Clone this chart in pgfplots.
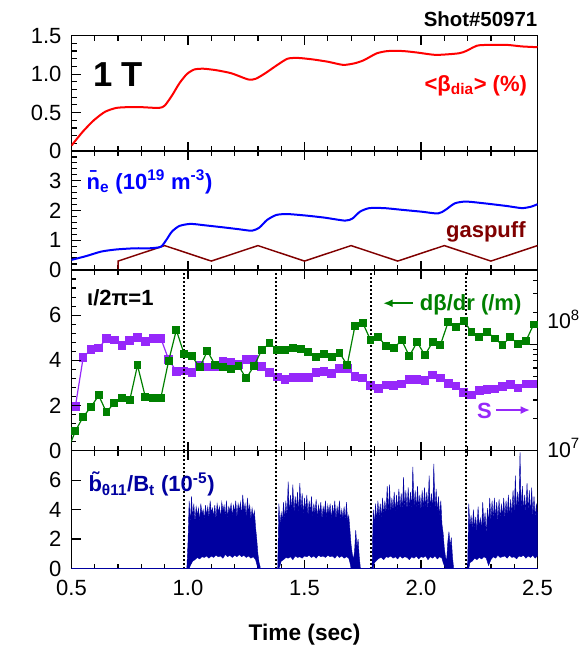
\documentclass[border=0pt]{standalone}
\usepackage{fontspec}
\setmainfont{Liberation Sans}
\usepackage{pgfplots}
\usepackage{pgfplotstable}
\pgfplotsset{compat=1.18}
\usetikzlibrary{arrows.meta}

\definecolor{betared}{RGB}{255,0,0}
\definecolor{neblue}{RGB}{0,0,255}
\definecolor{gasred}{RGB}{128,0,0}
\definecolor{dbgreen}{RGB}{0,128,0}
\definecolor{spurple}{RGB}{150,40,250}
\definecolor{bblue}{RGB}{0,0,160}

\newcommand\lab{\fontsize{16.5}{19}\selectfont\bfseries}

\pgfplotstableread{
t v
0.4833 0.00
0.5167 0.87
0.5500 1.50
0.5833 1.93
0.6167 2.45
0.6500 1.70
0.6833 2.12
0.7167 2.35
0.7500 2.24
0.7833 3.78
0.8167 2.39
0.8500 2.33
0.8833 2.33
0.9167 3.97
0.9500 5.34
0.9833 4.28
1.0167 4.19
1.0500 3.69
1.0833 4.41
1.1167 3.79
1.1500 3.69
1.1833 3.62
1.2167 3.76
1.2500 3.20
1.2833 3.76
1.3167 4.46
1.3500 4.75
1.3833 4.46
1.4167 4.46
1.4500 4.53
1.4833 4.49
1.5167 4.38
1.5500 4.13
1.5833 4.28
1.6167 4.16
1.6500 4.34
1.6833 3.79
1.7167 5.53
1.7500 5.66
1.7833 4.90
1.8167 5.02
1.8500 4.65
1.8833 4.53
1.9167 4.90
1.9500 4.19
1.9833 4.81
2.0167 4.23
2.0500 4.81
2.0833 4.68
2.1167 5.70
2.1500 5.49
2.1833 5.76
2.2167 5.25
2.2500 5.02
2.2833 5.27
2.3167 4.97
2.3500 4.68
2.3833 5.04
2.4167 4.71
2.4500 4.85
2.4833 5.59
}\dbdr

\pgfplotstableread{
t s
0.5167 2.61e7
0.5500 7.48e7
0.5833 8.97e7
0.6167 9.23e7
0.6500 1.13e8
0.6833 1.10e8
0.7167 9.79e7
0.7500 1.09e8
0.7833 1.16e8
0.8167 1.07e8
0.8500 1.14e8
0.8833 1.14e8
0.9167 7.21e7
0.9500 5.58e7
0.9833 5.62e7
1.0167 5.47e7
1.0500 6.32e7
1.0833 6.10e7
1.1167 6.10e7
1.1500 6.85e7
1.1833 6.71e7
1.2167 6.47e7
1.2500 7.21e7
1.2833 7.21e7
1.3167 6.15e7
1.3500 5.40e7
1.3833 4.94e7
1.4167 4.67e7
1.4500 4.91e7
1.4833 4.91e7
1.5167 4.91e7
1.5500 5.47e7
1.5833 5.58e7
1.6167 5.32e7
1.6500 5.93e7
1.6833 5.89e7
1.7167 5.01e7
1.7500 4.84e7
1.7833 4.09e7
1.8167 3.84e7
1.8500 4.16e7
1.8833 4.09e7
1.9167 4.25e7
1.9500 4.67e7
1.9833 4.67e7
2.0167 4.56e7
2.0500 5.13e7
2.0833 4.84e7
2.1167 4.27e7
2.1500 4.06e7
2.1833 3.52e7
2.2167 3.34e7
2.2500 3.67e7
2.2833 3.75e7
2.3167 3.81e7
2.3500 4.04e7
2.3833 4.19e7
2.4167 3.89e7
2.4500 4.25e7
2.4833 4.25e7
}\sdata

\pgfplotsset{
  panel/.style={
    anchor=south west, scale only axis, width=349.5pt,
    xmin=0.5, xmax=2.5,
    axis line style={line width=1.1pt},
    tick style={line width=0.9pt, black},
    major tick length=6.75pt, minor tick length=3.75pt,
    tick align=inside,
    xtick={0.5,1,1.5,2,2.5}, minor x tick num=4,
    xtick pos=both, ytick pos=left,
    xticklabels={},
    tick label style={font=\fontsize{16.5}{19}\selectfont},
    yticklabel style={xshift=-4pt},
    xticklabel style={yshift=-5pt},
    /pgf/number format/assume math mode=true,
  }
}

\begin{document}
\begin{tikzpicture}
\path[use as bounding box] (0,0) rectangle (437.25pt,488.25pt);

% ---------- Panel 1: beta ----------
\begin{axis}[panel, at={(53.625pt,375pt)}, height=86.5pt,
  ymin=0, ymax=1.5, ytick={0,0.5,1,1.5}, yticklabels={0,0.5,1.0,1.5},
  minor y tick num=4]
\addplot[betared, line width=1.5pt, smooth, tension=0.4] coordinates {
(0.5,0.07)(0.548,0.25)(0.596,0.40)(0.644,0.51)(0.692,0.56)(0.74,0.57)(0.80,0.57)
(0.875,0.56)(0.90,0.59)(0.931,0.72)(0.963,0.88)(0.995,1.00)(1.027,1.06)(1.067,1.07)
(1.123,1.05)(1.187,1.01)(1.259,0.93)(1.291,0.94)(1.331,1.01)(1.379,1.11)(1.427,1.20)
(1.474,1.21)(1.538,1.19)(1.602,1.16)(1.666,1.12)(1.714,1.14)(1.754,1.18)(1.81,1.27)
(1.858,1.30)(1.922,1.30)(1.985,1.28)(2.065,1.25)(2.161,1.27)(2.193,1.30)(2.241,1.37)
(2.289,1.38)(2.369,1.38)(2.433,1.36)(2.5,1.35)};
\node[font=\fontsize{26}{30}\selectfont\bfseries] at (rel axis cs:0.10,0.66) {1 T};
\node[anchor=base east, text=betared, font=\lab, inner sep=0pt] at (rel axis cs:0.978,0.52) {<β\textsubscript{dia}> (\%)};
\end{axis}

% ---------- Panel 2: density & gaspuff ----------
\begin{axis}[panel, at={(53.625pt,285.75pt)}, height=89.25pt,
  ymin=0, ymax=4, ytick={0,1,2,3,4}, yticklabels={0,1,2,3,{}},
  minor y tick num=4]
\addplot[gasred, line width=1.1pt] coordinates {
(0.5,0)(0.7,0)(0.7,0.3)(0.9,0.82)(1.1,0.3)(1.3,0.82)(1.5,0.3)(1.7,0.82)(1.9,0.3)(2.1,0.82)(2.3,0.3)(2.5,0.82)};
\addplot[neblue, line width=1.5pt, smooth, tension=0.4] coordinates {
(0.5,0.34)(0.564,0.47)(0.628,0.62)(0.692,0.69)(0.772,0.73)(0.835,0.73)(0.883,0.78)
(0.907,1.01)(0.931,1.29)(0.963,1.48)(1.011,1.55)(1.075,1.50)(1.155,1.43)(1.219,1.37)
(1.275,1.32)(1.307,1.43)(1.339,1.68)(1.379,1.85)(1.427,1.88)(1.506,1.83)(1.586,1.76)
(1.674,1.66)(1.706,1.73)(1.738,1.96)(1.778,2.08)(1.842,2.08)(1.922,2.02)(2.002,1.96)
(2.073,1.90)(2.105,2.02)(2.145,2.24)(2.193,2.30)(2.273,2.24)(2.369,2.15)(2.433,2.08)
(2.473,2.13)(2.5,2.21)};
\node[anchor=base west, text=neblue, font=\lab, inner sep=0pt] at (rel axis cs:0.032,0.678) {\={n}\textsubscript{e} (10\textsuperscript{19} m\textsuperscript{-3})};
\node[anchor=base east, text=gasred, font=\lab, inner sep=0pt] at (rel axis cs:0.975,0.275) {gaspuff};
\end{axis}

% ---------- Panel 3 right axis: S ----------
\begin{axis}[anchor=south west, at={(53.625pt,150.225pt)}, scale only axis,
  width=349.5pt, height=135.525pt, xmin=0.5, xmax=2.5,
  ymode=log, ymin=1e7, ymax=5e8,
  axis x line=none, axis y line*=right,
  axis line style={-, line width=1.1pt},
  tick style={line width=0.9pt, black},
  major tick length=6.75pt, minor tick length=3.75pt, tick align=inside,
  ytick={1e7,1e8}, yticklabels={},
  minor ytick={2e7,3e7,4e7,5e7,6e7,7e7,8e7,9e7,2e8,3e8,4e8}]
\addplot[spurple, line width=0.9pt, mark=square*, mark size=2.8pt, mark options={solid, fill=spurple, draw=spurple}] table[x=t, y=s] {\sdata};
\end{axis}

% ---------- Panel 3 left axis: dbeta/dr ----------
\begin{axis}[panel, at={(53.625pt,150.225pt)}, height=135.525pt,
  ymin=0, ymax=8, ytick={0,2,4,6,8}, yticklabels={0,2,4,6,{}},
  minor y tick num=4]
\addplot[black, line width=1.1pt, dash pattern=on 1.2pt off 1.8pt] coordinates {(0.982,0)(0.982,8)};
\addplot[black, line width=1.1pt, dash pattern=on 1.2pt off 1.8pt] coordinates {(1.377,0)(1.377,8)};
\addplot[black, line width=1.1pt, dash pattern=on 1.2pt off 1.8pt] coordinates {(1.785,0)(1.785,8)};
\addplot[black, line width=1.1pt, dash pattern=on 1.2pt off 1.8pt] coordinates {(2.193,0)(2.193,8)};
\addplot[dbgreen, line width=0.9pt, mark=square*, mark size=2.5pt, mark options={solid, fill=dbgreen, draw=dbgreen}] table[x=t, y=v] {\dbdr};
\node[anchor=base west, font=\lab, inner sep=0pt] at (rel axis cs:0.033,0.806) {ι/2π=1};
\node[anchor=base east, text=dbgreen, font=\lab, inner sep=0pt] at (rel axis cs:0.966,0.775) {dβ/dr (/m)};
\draw[dbgreen, line width=1.6pt, -{Latex[length=7pt,width=6pt]}] (rel axis cs:0.733,0.816) -- (rel axis cs:0.669,0.816);
\node[anchor=base west, text=spurple, font=\lab, inner sep=0pt] at (rel axis cs:0.87,0.179) {S};
\draw[spurple, line width=1.6pt, -{Latex[length=7pt,width=6pt]}] (rel axis cs:0.912,0.225) -- (rel axis cs:0.984,0.225);
\end{axis}

% ---------- Panel 4: b-tilde ----------
\begin{axis}[panel, at={(53.625pt,61.875pt)}, height=88.35pt,
  ymin=0, ymax=8, ytick={0,2,4,6,8}, yticklabels={0,2,4,6,{}},
  xticklabels={0.5,1.0,1.5,2.0,2.5}]
\addplot[black, line width=1.1pt, dash pattern=on 1.2pt off 1.8pt] coordinates {(0.982,0)(0.982,8)};
\addplot[black, line width=1.1pt, dash pattern=on 1.2pt off 1.8pt] coordinates {(1.377,0)(1.377,8)};
\addplot[black, line width=1.1pt, dash pattern=on 1.2pt off 1.8pt] coordinates {(1.785,0)(1.785,8)};
\addplot[black, line width=1.1pt, dash pattern=on 1.2pt off 1.8pt] coordinates {(2.193,0)(2.193,8)};
\addplot[bblue, line width=1.5pt] coordinates {(0.5,0)(2.5,0)};
% burst 1
\addplot[fill=bblue, draw=bblue, line width=0.3pt] coordinates {
(0.995,0)(1.000,1.8)(1.005,4.6)(1.010,3.0)(1.015,4.9)(1.020,3.4)(1.025,4.4)(1.030,3.1)(1.035,4.2)
(1.040,3.6)(1.045,4.1)(1.050,3.2)(1.055,4.4)(1.060,3.7)(1.065,4.0)(1.070,3.3)(1.075,4.3)
(1.080,3.6)(1.085,4.2)(1.090,3.4)(1.095,4.6)(1.100,3.8)(1.105,4.1)(1.110,3.5)(1.115,4.3)
(1.120,3.3)(1.125,4.4)(1.130,3.8)(1.135,4.2)(1.140,3.4)(1.145,4.5)(1.150,3.9)(1.155,4.3)
(1.160,3.5)(1.165,4.6)(1.170,3.4)(1.175,4.2)(1.180,3.9)(1.185,4.4)(1.190,3.5)(1.195,4.3)
(1.200,3.8)(1.205,4.6)(1.210,3.4)(1.215,4.4)(1.220,3.9)(1.225,4.5)(1.230,3.5)(1.235,5.0)
(1.240,3.9)(1.245,4.4)(1.250,3.4)(1.255,4.8)(1.260,3.8)(1.265,4.3)(1.270,3.3)(1.275,4.1)
(1.280,3.5)(1.285,3.9)(1.290,2.8)(1.295,2.0)(1.300,1.0)(1.305,0.4)(1.310,0.1)
(1.310,0)(1.300,0)(1.295,0.3)(1.290,0.6)(1.280,0.8)(1.270,0.7)(1.260,0.85)(1.250,0.75)
(1.240,0.9)(1.230,0.8)(1.220,0.95)(1.210,0.8)(1.200,0.9)(1.190,0.75)(1.180,0.9)(1.170,0.8)
(1.160,0.95)(1.150,0.7)(1.140,0.85)(1.130,0.8)(1.120,0.9)(1.110,0.75)(1.100,0.85)(1.090,0.7)
(1.080,0.85)(1.070,0.75)(1.060,0.8)(1.050,0.65)(1.040,0.75)(1.030,0.6)(1.020,0.5)(1.010,0.2)(1.005,0)
} -- cycle;
% burst 2
\addplot[fill=bblue, draw=bblue, line width=0.3pt] coordinates {
(1.385,0)(1.390,4.4)(1.395,3.0)(1.400,3.8)(1.405,3.2)(1.410,4.5)(1.415,3.3)(1.420,4.6)
(1.425,3.5)(1.430,5.9)(1.435,3.6)(1.440,5.0)(1.445,3.9)(1.450,5.7)(1.455,3.7)(1.460,4.9)
(1.465,4.0)(1.470,5.2)(1.475,3.7)(1.480,5.8)(1.485,3.9)(1.490,5.1)(1.495,3.6)(1.500,4.8)
(1.505,3.9)(1.510,5.0)(1.515,3.5)(1.520,4.6)(1.525,3.8)(1.530,4.9)(1.535,3.4)(1.540,4.4)
(1.545,3.7)(1.550,4.7)(1.555,3.4)(1.560,4.3)(1.565,3.7)(1.570,4.5)(1.575,3.3)(1.580,4.2)
(1.585,3.7)(1.590,4.6)(1.595,3.4)(1.600,4.3)(1.605,3.7)(1.610,4.4)(1.615,3.3)(1.620,4.3)
(1.625,3.6)(1.630,4.6)(1.635,3.3)(1.640,4.2)(1.645,3.6)(1.650,4.6)(1.655,3.3)(1.660,4.0)
(1.665,3.4)(1.670,4.2)(1.675,3.2)(1.680,4.5)(1.685,3.2)(1.690,3.6)(1.695,2.6)(1.700,1.6)
(1.705,1.0)(1.710,0.6)(1.715,1.2)(1.720,2.6)(1.725,1.4)(1.730,2.0)(1.735,0.8)(1.740,0)
(1.700,0)(1.695,0.4)(1.690,0.7)(1.680,0.8)(1.670,0.7)(1.660,0.85)(1.650,0.75)(1.640,0.9)
(1.630,0.7)(1.620,0.85)(1.610,0.8)(1.600,0.9)(1.590,0.75)(1.580,0.85)(1.570,0.8)(1.560,0.9)
(1.550,0.7)(1.540,0.85)(1.530,0.75)(1.520,0.9)(1.510,0.8)(1.500,0.85)(1.490,0.7)(1.480,0.8)
(1.470,0.75)(1.460,0.85)(1.450,0.6)(1.440,0.8)(1.430,0.7)(1.420,0.75)(1.410,0.6)(1.400,0.5)
(1.395,0.2)(1.390,0)
} -- cycle;
% burst 3
\addplot[fill=bblue, draw=bblue, line width=0.3pt] coordinates {
(1.790,0)(1.795,4.0)(1.800,3.0)(1.805,4.4)(1.810,3.2)(1.815,4.6)(1.820,3.5)(1.825,4.4)
(1.830,3.4)(1.835,4.8)(1.840,3.6)(1.845,4.6)(1.850,3.7)(1.855,5.6)(1.860,3.8)(1.865,5.7)
(1.870,3.7)(1.875,4.8)(1.880,3.9)(1.885,5.2)(1.890,3.8)(1.895,5.0)(1.900,3.9)(1.905,5.4)
(1.910,4.0)(1.915,5.1)(1.920,3.9)(1.925,6.2)(1.930,4.0)(1.935,5.3)(1.940,3.9)(1.945,5.5)
(1.950,4.1)(1.955,5.2)(1.960,4.0)(1.965,6.9)(1.970,4.1)(1.975,5.3)(1.980,4.0)(1.985,5.6)
(1.990,4.1)(1.995,5.0)(2.000,3.9)(2.005,5.3)(2.010,4.0)(2.015,5.5)(2.020,4.1)(2.025,5.2)
(2.030,3.9)(2.035,6.3)(2.040,4.0)(2.045,5.1)(2.050,3.8)(2.055,7.1)(2.060,3.9)(2.065,5.4)
(2.070,3.8)(2.075,4.9)(2.080,3.5)(2.085,4.6)(2.090,3.0)(2.095,2.4)(2.100,1.4)(2.105,0.8)
(2.110,0.5)(2.115,1.8)(2.120,2.5)(2.125,1.5)(2.130,2.1)(2.135,0.8)(2.140,0)
(2.105,0)(2.095,0.4)(2.090,0.7)(2.080,0.8)(2.070,0.65)(2.060,0.85)(2.050,0.7)(2.040,0.8)
(2.030,0.6)(2.020,0.85)(2.010,0.75)(2.000,0.8)(1.990,0.65)(1.980,0.85)(1.970,0.7)(1.960,0.8)
(1.950,0.6)(1.940,0.75)(1.930,0.8)(1.920,0.7)(1.910,0.85)(1.900,0.65)(1.890,0.8)(1.880,0.7)
(1.870,0.85)(1.860,0.75)(1.850,0.8)(1.840,0.6)(1.830,0.75)(1.820,0.7)(1.810,0.55)(1.800,0.4)(1.795,0)
} -- cycle;
% burst 4
\addplot[fill=bblue, draw=bblue, line width=0.3pt] coordinates {
(2.200,0)(2.205,4.4)(2.210,2.8)(2.215,3.6)(2.220,2.6)(2.225,4.0)(2.230,2.7)(2.235,3.5)
(2.240,2.5)(2.245,4.2)(2.250,2.8)(2.255,3.4)(2.260,2.6)(2.265,4.5)(2.270,2.9)(2.275,3.8)
(2.280,2.2)(2.285,4.1)(2.290,3.0)(2.295,4.8)(2.300,3.2)(2.305,4.6)(2.310,3.3)(2.315,4.8)
(2.320,3.4)(2.325,4.5)(2.330,3.2)(2.335,4.7)(2.340,3.3)(2.345,4.4)(2.350,3.5)(2.355,4.8)
(2.360,3.4)(2.365,4.6)(2.370,3.6)(2.375,5.0)(2.380,3.5)(2.385,4.7)(2.390,3.6)(2.395,5.3)
(2.400,3.7)(2.405,6.3)(2.410,3.8)(2.415,5.2)(2.420,3.9)(2.425,7.9)(2.430,3.8)(2.435,5.6)
(2.440,3.9)(2.445,5.0)(2.450,3.7)(2.455,5.8)(2.460,3.8)(2.465,5.3)(2.470,3.6)(2.475,5.5)
(2.480,3.5)(2.485,4.9)(2.490,3.4)(2.495,4.4)(2.500,3.7)
(2.500,0.85)(2.490,0.7)(2.480,0.9)(2.470,0.75)(2.460,0.85)(2.450,0.7)(2.440,0.9)(2.430,0.8)
(2.420,0.85)(2.410,0.65)(2.400,0.8)(2.390,0.75)(2.380,0.9)(2.370,0.7)(2.360,0.85)(2.350,0.8)
(2.340,0.75)(2.330,0.9)(2.320,0.7)(2.310,0.8)(2.300,0.6)(2.290,0.2)(2.280,0.7)(2.270,0.8)
(2.260,0.65)(2.250,0.75)(2.240,0.6)(2.230,0.7)(2.220,0.5)(2.210,0.4)(2.205,0)
} -- cycle;
\node[anchor=base west, text=bblue, font=\lab, inner sep=0pt] at (rel axis cs:0.036,0.652) {\~{b}\textsubscript{θ11}/B\textsubscript{t} (10\textsuperscript{-5})};
\end{axis}

% ---------- outer texts ----------
\node[anchor=base east, font=\fontsize{15.3}{17}\selectfont\bfseries, inner sep=0pt] at (403.1pt,468.5pt) {Shot\#50971};
\node[anchor=base west, font=\fontsize{16}{19}\selectfont, inner sep=0pt] at (410.25pt,241.9pt) {10\textsuperscript{8}};
\node[anchor=base west, font=\fontsize{16}{19}\selectfont, inner sep=0pt] at (410.25pt,145.3pt) {10\textsuperscript{7}};
\node[font=\fontsize{17}{20}\selectfont\bfseries] at (228.4pt,12pt) {Time (sec)};
\end{tikzpicture}
\end{document}
